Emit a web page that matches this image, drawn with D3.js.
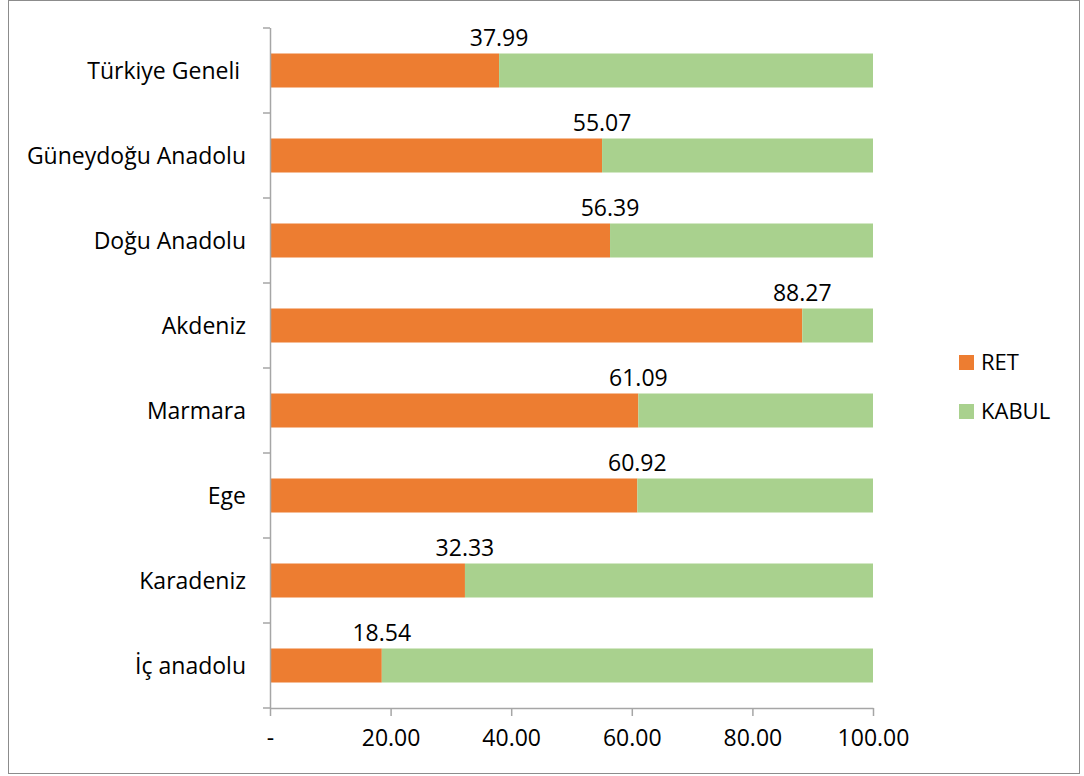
<!DOCTYPE html>
<html>
<head>
<meta charset="utf-8">
<script src="https://cdn.jsdelivr.net/npm/d3@7"></script>
<style>
  body { margin: 0; background: #fff; }
  text { font-family: "Open Sans", sans-serif; fill: #000; }
</style>
</head>
<body>
<div id="chart"></div>
<script>
// regions, top to bottom as drawn
var regions = ["Türkiye Geneli ", "Güneydoğu Anadolu", "Doğu Anadolu", "Akdeniz",
               "Marmara", "Ege", "Karadeniz", "İç anadolu"];
var retValues   = [37.99, 55.07, 56.39, 88.27, 61.09, 60.92, 32.33, 18.54];
var kabulValues = [62.01, 44.93, 43.61, 11.73, 38.91, 39.08, 67.67, 81.46];
var xTicks = [0, 20, 40, 60, 80, 100];
var seriesNames = ["RET", "KABUL"];
var colors = ["#ED7D31", "#A9D18E"];

var svgWidth = 1084;
var svgHeight = 776;
var margin = { top: 28, right: 211, bottom: 68, left: 270 };
var width = svgWidth - margin.left - margin.right;
var height = svgHeight - margin.top - margin.bottom;

var svg = d3.select("#chart").append("svg")
  .attr("width", svgWidth)
  .attr("height", svgHeight);

// outer chart border
svg.append("rect")
  .attr("x", 8.5).attr("y", 0.5)
  .attr("width", 1071).attr("height", 773)
  .attr("fill", "none")
  .attr("stroke", "#8c8c8c");

var chartGroup = svg.append("g")
  .attr("transform", `translate(${margin.left}, ${margin.top})`);

var x = d3.scaleLinear().domain([0, 100]).range([0, width]);
var y = d3.scaleBand().domain(regions).range([0, height]).paddingInner(0.6).paddingOuter(0.3);

// table for stacking
var rows = regions.map(function(r, i) {
  return { region: r, RET: retValues[i], KABUL: kabulValues[i] };
});
var stacked = d3.stack().keys(seriesNames)(rows);

chartGroup.selectAll(".series")
  .data(stacked)
  .enter().append("g")
  .attr("fill", function(d, i) { return colors[i]; })
  .selectAll("rect")
  .data(function(d) { return d; })
  .enter().append("rect")
  .attr("x", function(d) { return x(d[0]); })
  .attr("width", function(d) { return x(d[1]) - x(d[0]); })
  .attr("y", function(d) { return y(d.data.region); })
  .attr("height", y.bandwidth());

// value labels above end of RET bar
chartGroup.selectAll(".valLabel")
  .data(rows)
  .enter().append("text")
  .attr("x", function(d) { return x(d.RET); })
  .attr("y", function(d) { return y(d.region) - 8; })
  .attr("text-anchor", "middle")
  .style("font-size", "23px")
  .text(function(d) { return d.RET.toFixed(2); });

// y axis (band boundaries as ticks)
var bandStep = height / regions.length;
var yAxis = chartGroup.append("g");
yAxis.append("line")
  .attr("x1", 0.5).attr("x2", 0.5)
  .attr("y1", 0).attr("y2", height)
  .attr("stroke", "#a6a6a6").attr("stroke-width", 1.5);
yAxis.selectAll(".ytick")
  .data(d3.range(regions.length + 1))
  .enter().append("line")
  .attr("x1", -7).attr("x2", 0)
  .attr("y1", function(i) { return i * bandStep; })
  .attr("y2", function(i) { return i * bandStep; })
  .attr("stroke", "#a6a6a6").attr("stroke-width", 1.5);
yAxis.selectAll(".ylabel")
  .data(regions)
  .enter().append("text")
  .attr("x", -24)
  .attr("y", function(d) { return y(d) + y.bandwidth() / 2; })
  .attr("dy", "0.35em")
  .attr("text-anchor", "end")
  .style("font-size", "23px")
  .style("white-space", "pre")
  .text(function(d) { return d; });

// x axis
var xAxis = chartGroup.append("g")
  .attr("transform", `translate(0, ${height})`)
  .call(d3.axisBottom(x).tickValues(xTicks).tickSize(8).tickSizeOuter(0)
    .tickFormat(function(d) { return d === 0 ? "-" : d.toFixed(2); }));
xAxis.select(".domain").attr("stroke", "#a6a6a6").attr("stroke-width", 1.5);
xAxis.selectAll(".tick line").attr("stroke", "#a6a6a6").attr("stroke-width", 1.5);
xAxis.selectAll(".tick text")
  .attr("y", 22)
  .style("font-size", "23px")
  .style("font-family", "'Open Sans', sans-serif")
  .attr("fill", "#000");

// legend
var legend = svg.append("g").attr("transform", "translate(959, 355)");
var legendItem = legend.selectAll(".legendItem")
  .data(seriesNames)
  .enter().append("g")
  .attr("transform", function(d, i) { return `translate(0, ${i * 49})`; });
legendItem.append("rect")
  .attr("width", 15).attr("height", 15)
  .attr("fill", function(d, i) { return colors[i]; });
legendItem.append("text")
  .attr("x", 22).attr("y", 15)
  .style("font-size", "22px")
  .text(function(d) { return d; });
</script>
</body>
</html>
